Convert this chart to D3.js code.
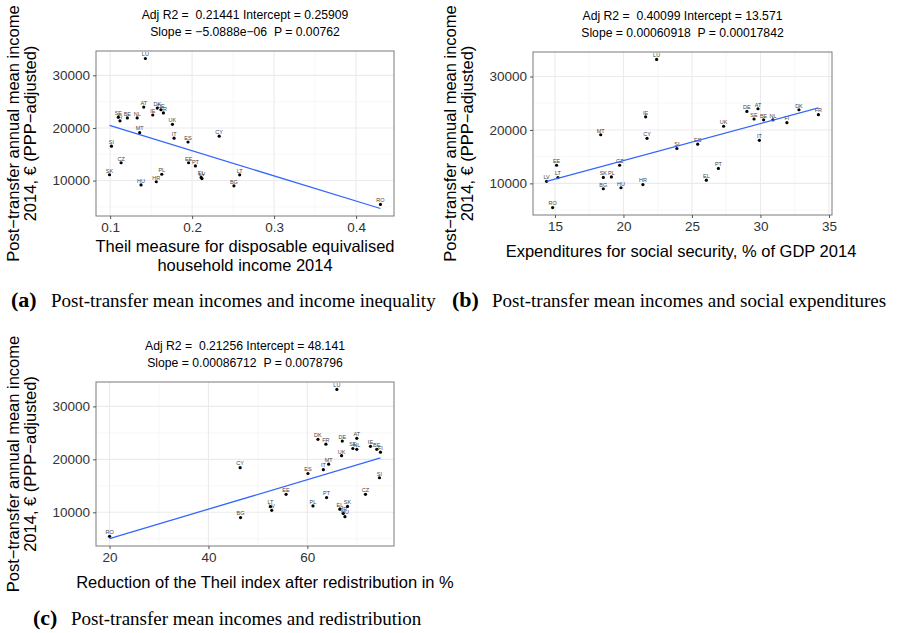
<!DOCTYPE html>
<html>
<head>
<meta charset="utf-8">
<script src="https://cdn.jsdelivr.net/npm/d3@7"></script>
<style>
  body { margin: 0; background: #fff; }
  svg { display: block; }
  text { white-space: pre; }
</style>
</head>
<body>
<svg id="chart" width="897" height="633"></svg>
<script>
// EU-28 country codes (same order in every array below)
var countries = ["AT","BE","BG","CY","CZ","DE","DK","EE","EL","ES","FI","FR","HR","HU",
                 "IE","IT","LT","LU","LV","MT","NL","PL","PT","RO","SE","SI","SK","UK"];

// post-transfer annual mean income 2014, EUR PPP-adjusted
var income = [23970,21900,9000,18430,13390,23460,23780,13390,10600,17330,21360,22860,9780,9180,
              22460,18060,11090,33200,10380,19100,21900,11200,12790,5470,22050,16530,11110,20690];

// (a) Theil measure, disposable equivalised household income 2014
var theil = [0.141,0.121,0.251,0.233,0.1134,0.162,0.1575,0.1957,0.211,0.195,0.112,0.165,0.1563,0.1377,
             0.152,0.178,0.258,0.143,0.212,0.136,0.133,0.163,0.204,0.4297,0.110,0.1016,0.0993,0.176];

// (b) expenditures for social security, % of GDP 2014
var socialExp = [29.82,30.23,18.53,21.72,19.72,29.01,32.81,15.12,26.05,25.42,31.93,34.23,21.42,19.82,
                 21.62,29.92,15.22,22.42,14.39,18.34,30.91,19.12,26.93,14.83,29.53,23.9,18.53,27.31];

// (c) reduction of the Theil index after redistribution, %
var theilReduction = [70.0,74.03,46.49,46.41,71.75,67.06,62.14,55.69,66.57,60.12,74.78,63.75,67.26,67.6,
                      72.76,63.23,52.54,65.97,52.8,64.3,70.0,61.13,63.89,20.0,69.2,74.58,68.12,66.92];

var yTicks = [10000, 20000, 30000];
var xTicksA = [0.1, 0.2, 0.3, 0.4];
var xTicksB = [15, 20, 25, 30, 35];
var xTicksC = [20, 40, 60];

var titleA = ["Adj R2 =  0.21441 Intercept = 0.25909", "Slope = \u22125.0888e\u221206  P = 0.00762"];
var titleB = ["Adj R2 =  0.40099 Intercept = 13.571", "Slope = 0.00060918  P = 0.00017842"];
var titleC = ["Adj R2 =  0.21256 Intercept = 48.141", "Slope = 0.00086712  P = 0.0078796"];

var xTitleA = ["Theil measure for disposable equivalised", "household income 2014"];
var xTitleB = ["Expenditures for social security, % of GDP 2014"];
var xTitleC = ["Reduction of the Theil index after redistribution in %"];
var yTitle = ["Post\u2212transfer annual mean income", "2014, \u20ac (PPP\u2212adjusted)"];

var captionA = ["(a)", "Post-transfer mean incomes and income inequality"];
var captionB = ["(b)", "Post-transfer mean incomes and social expenditures"];
var captionC = ["(c)", "Post-transfer mean incomes and redistribution"];

var SANS = "'Liberation Sans', Arial, Helvetica, sans-serif";
var SERIF = "'Liberation Serif', 'Times New Roman', serif";

var panels = [
    { xs: theil, xTicks: xTicksA, fmt: d3.format(".1f"), title: titleA, xTitle: xTitleA, caption: captionA,
      box: {l: 96, r: 394, t: 51, b: 216}, xTitleX: 245, xTitleY: [252, 271], capY: 307, capX: [11, 51] },
    { xs: socialExp, xTicks: xTicksB, fmt: d3.format("d"), title: titleB, xTitle: xTitleB, caption: captionB,
      box: {l: 533, r: 832, t: 52, b: 215}, xTitleX: 681, xTitleY: [256.5], capY: 307, capX: [452, 492] },
    { xs: theilReduction, xTicks: xTicksC, fmt: d3.format("d"), title: titleC, xTitle: xTitleC, caption: captionC,
      box: {l: 96, r: 394, t: 382, b: 546}, xTitleX: 265, xTitleY: [588], capY: 625, capX: [33, 71] }
];

var svg = d3.select("#chart");

// ordinary least squares, same as geom_smooth(method = "lm")
function linFit(xs, ys) {
    var mx = d3.mean(xs), my = d3.mean(ys);
    var sxy = d3.sum(xs, function(v, i) { return (v - mx) * (ys[i] - my); });
    var sxx = d3.sum(xs, function(v) { return (v - mx) * (v - mx); });
    var b = sxy / sxx;
    return { a: my - b * mx, b: b };
}

function expand(ext) {
    var pad = (ext[1] - ext[0]) * 0.05;
    return [ext[0] - pad, ext[1] + pad];
}

function minorTicks(major, domain) {
    var step = major[1] - major[0];
    return d3.range(major[0] - step / 2, domain[1], step).filter(function(v) {
        return v > domain[0] && v < domain[1] && major.indexOf(v) < 0;
    });
}

function drawPanel(p) {
    var fit = linFit(p.xs, income);
    var xExt = d3.extent(p.xs);
    var lineData = xExt.map(function(v) { return [v, fit.a + fit.b * v]; });
    var yExt = d3.extent(income.concat(lineData.map(function(d) { return d[1]; })));

    var x = d3.scaleLinear().domain(expand(xExt)).range([p.box.l, p.box.r]);
    var y = d3.scaleLinear().domain(expand(yExt)).range([p.box.b, p.box.t]);

    var g = svg.append("g");
    var w = p.box.r - p.box.l, h = p.box.b - p.box.t;

    g.append("rect").attr("x", p.box.l).attr("y", p.box.t).attr("width", w).attr("height", h)
        .attr("fill", "#fff");

    // grid
    var grid = g.append("g");
    grid.selectAll(".minx").data(minorTicks(p.xTicks, x.domain())).enter().append("line")
        .attr("x1", x).attr("x2", x).attr("y1", p.box.t).attr("y2", p.box.b)
        .attr("stroke", "#f2f2f2").attr("stroke-width", 0.6);
    grid.selectAll(".miny").data(minorTicks(yTicks, y.domain())).enter().append("line")
        .attr("y1", y).attr("y2", y).attr("x1", p.box.l).attr("x2", p.box.r)
        .attr("stroke", "#f2f2f2").attr("stroke-width", 0.6);
    grid.selectAll(".majx").data(p.xTicks).enter().append("line")
        .attr("x1", x).attr("x2", x).attr("y1", p.box.t).attr("y2", p.box.b)
        .attr("stroke", "#ebebeb").attr("stroke-width", 1.1);
    grid.selectAll(".majy").data(yTicks).enter().append("line")
        .attr("y1", y).attr("y2", y).attr("x1", p.box.l).attr("x2", p.box.r)
        .attr("stroke", "#ebebeb").attr("stroke-width", 1.1);

    // labels of points
    g.selectAll(".lab").data(countries).enter().append("text")
        .attr("x", function(d, i) { return x(p.xs[i]); })
        .attr("y", function(d, i) { return y(income[i]) - 2.2; })
        .attr("text-anchor", "middle")
        .style("font-family", SANS).style("font-size", "5.5px").attr("fill", "#444")
        .text(function(d) { return d; });

    // points
    g.selectAll(".pt").data(countries).enter().append("circle")
        .attr("cx", function(d, i) { return x(p.xs[i]); })
        .attr("cy", function(d, i) { return y(income[i]); })
        .attr("r", 1.6).attr("fill", "#000");

    // regression line
    g.append("path").datum(lineData)
        .attr("d", d3.line().x(function(d) { return x(d[0]); }).y(function(d) { return y(d[1]); }))
        .attr("fill", "none").attr("stroke", "#3366FF").attr("stroke-width", 1.3);

    // border
    g.append("rect").attr("x", p.box.l).attr("y", p.box.t).attr("width", w).attr("height", h)
        .attr("fill", "none").attr("stroke", "#7a7a7a").attr("stroke-width", 1);

    // axes
    var xa = g.append("g").attr("transform", "translate(0," + p.box.b + ")")
        .call(d3.axisBottom(x).tickValues(p.xTicks).tickFormat(p.fmt).tickSize(3).tickPadding(3));
    var ya = g.append("g").attr("transform", "translate(" + p.box.l + ",0)")
        .call(d3.axisLeft(y).tickValues(yTicks).tickFormat(d3.format("d")).tickSize(3).tickPadding(3));
    [xa, ya].forEach(function(a) {
        a.select(".domain").remove();
        a.selectAll(".tick line").attr("stroke", "#555");
        a.selectAll(".tick text").style("font-family", SANS).style("font-size", "13.5px").attr("fill", "#333");
    });

    var cx = (p.box.l + p.box.r) / 2, cy = (p.box.t + p.box.b) / 2;

    // title
    g.selectAll(".ttl").data(p.title).enter().append("text")
        .attr("x", cx).attr("y", function(d, i) { return p.box.t - 32.5 + i * 17.8; })
        .attr("text-anchor", "middle")
        .style("font-family", SANS).style("font-size", "12.2px").attr("fill", "#000")
        .text(function(d) { return d; });

    // x title
    g.selectAll(".xt").data(p.xTitle).enter().append("text")
        .attr("x", p.xTitleX).attr("y", function(d, i) { return p.xTitleY[i]; })
        .attr("text-anchor", "middle")
        .style("font-family", SANS).style("font-size", "16.5px").attr("fill", "#000")
        .text(function(d) { return d; });

    // y title
    g.selectAll(".yt").data(yTitle).enter().append("text")
        .attr("transform", function(d, i) {
            return "translate(" + (p.box.l - 77 + i * 17) + "," + cy + ") rotate(-90)";
        })
        .attr("text-anchor", "middle")
        .style("font-family", SANS).style("font-size", "16.5px").attr("fill", "#000")
        .text(function(d) { return d; });

    // caption
    g.append("text").attr("x", p.capX[0]).attr("y", p.capY)
        .style("font-family", SERIF).style("font-size", "22px").style("font-weight", "bold")
        .text(p.caption[0]);
    g.append("text").attr("x", p.capX[1]).attr("y", p.capY)
        .style("font-family", SERIF).style("font-size", "19px")
        .text(p.caption[1]);
}

panels.forEach(drawPanel);
</script>
</body>
</html>
